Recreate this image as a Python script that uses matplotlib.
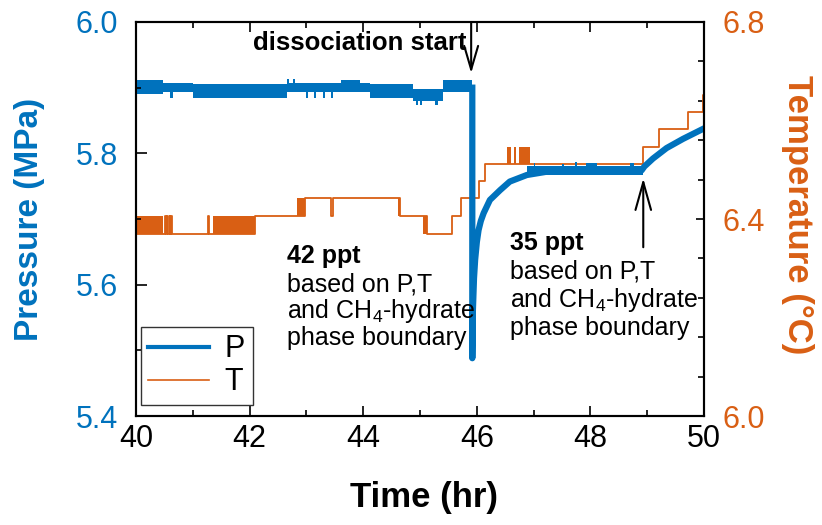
import numpy as np
import matplotlib
matplotlib.use('Agg')
import matplotlib.pyplot as plt
from matplotlib.ticker import MultipleLocator, FixedLocator, FormatStrFormatter
from matplotlib.lines import Line2D

plt.rcParams['font.family'] = ['Liberation Sans', 'DejaVu Sans']
plt.rcParams['mathtext.fontset'] = 'custom'
plt.rcParams['mathtext.rm'] = 'Liberation Sans'

BLUE = '#0072BD'
ORANGE = '#D95F14'

# pressure noise band before dissociation (hr, MPa), step-wise
p_pre_time = [40.00, 40.48, 40.60, 40.65, 41.01, 42.65, 42.70, 42.76, 42.80, 43.00,
              43.03, 43.14, 43.17, 43.29, 43.32, 43.43, 43.46, 43.60, 43.95, 44.12,
              44.88, 44.93, 44.96, 45.00, 45.03, 45.27, 45.31, 45.41, 45.92]
p_pre_high = [5.912, 5.907, 5.907, 5.907, 5.906, 5.913, 5.907, 5.913, 5.907, 5.907,
              5.907, 5.907, 5.907, 5.907, 5.907, 5.907, 5.907, 5.912, 5.907, 5.906,
              5.898, 5.898, 5.898, 5.898, 5.898, 5.898, 5.898, 5.912, 5.912]
p_pre_low = [5.891, 5.894, 5.884, 5.894, 5.885, 5.894, 5.894, 5.894, 5.894, 5.884,
             5.894, 5.884, 5.894, 5.884, 5.894, 5.884, 5.894, 5.894, 5.894, 5.885,
             5.879, 5.874, 5.879, 5.874, 5.879, 5.874, 5.879, 5.894, 5.894]

# pressure drop and recovery (hr, MPa)
p_time = [45.92, 45.92, 45.93, 45.95, 45.97, 46.00, 46.03, 46.07, 46.12, 46.23,
          46.41, 46.58, 46.88, 47.23, 48.90, 48.95, 49.10, 49.34, 49.63, 50.00]
p_value = [5.900, 5.488, 5.560, 5.610, 5.638, 5.665, 5.683, 5.697, 5.709, 5.729,
           5.744, 5.757, 5.767, 5.772, 5.774, 5.780, 5.792, 5.808, 5.822, 5.838]

# pressure noise band on the plateau
p_plat_time = [46.88, 47.00, 47.03, 47.50, 47.53, 47.73, 47.76, 47.93, 48.12, 48.70, 48.76, 48.93]
p_plat_high = [5.780, 5.786, 5.780, 5.784, 5.780, 5.787, 5.780, 5.786, 5.780, 5.786, 5.780, 5.780]
p_plat_low = [5.767, 5.767, 5.767, 5.767, 5.767, 5.767, 5.767, 5.767, 5.767, 5.767, 5.767, 5.767]

# temperature steps (hr, degC)
t_time = [40.00, 40.51, 40.52, 40.55, 40.56, 40.59, 40.60, 40.62, 40.63, 41.27,
          41.28, 42.10, 42.98, 43.44, 43.46, 44.65, 45.12, 45.56, 45.72, 46.04,
          46.14, 48.93, 49.21, 49.72, 49.98, 50.00]
t_value = [6.370, 6.406, 6.370, 6.406, 6.370, 6.406, 6.370, 6.406, 6.370, 6.406,
           6.370, 6.406, 6.442, 6.406, 6.442, 6.406, 6.370, 6.406, 6.442, 6.477,
           6.512, 6.547, 6.582, 6.617, 6.652, 6.652]

# spans where the temperature flickers between two readings
t_flick_start = [40.00, 41.36, 42.83, 44.62, 45.06, 46.53, 46.66, 46.75]
t_flick_end = [40.48, 42.10, 42.98, 44.65, 45.12, 46.60, 46.69, 46.94]
t_flick_low = [6.370, 6.370, 6.406, 6.406, 6.370, 6.512, 6.512, 6.512]
t_flick_high = [6.406, 6.406, 6.442, 6.442, 6.406, 6.547, 6.547, 6.547]

fig = plt.figure(figsize=(8.22, 5.25), dpi=100)
ax = fig.add_axes([0.1655, 0.2076, 0.6910, 0.7505])
ax2 = ax.twinx()
ax.set_zorder(ax2.get_zorder() + 1)
ax.patch.set_visible(False)

# temperature
ax2.step(t_time, t_value, where='post', color=ORANGE, lw=1.3)
for s, e, lo, hi in zip(t_flick_start, t_flick_end, t_flick_low, t_flick_high):
    ax2.fill_between([s, e], [lo, lo], [hi, hi], color=ORANGE, lw=0)

# pressure
ax.fill_between(p_pre_time, p_pre_low, p_pre_high, step='post', color=BLUE, lw=0)
ax.fill_between(p_plat_time, p_plat_low, p_plat_high, step='post', color=BLUE, lw=0)
ax.plot(p_time, p_value, color=BLUE, lw=4.5, solid_joinstyle='round')

ax.set_xlim(40, 50)
ax.set_ylim(5.4, 6.0)
ax2.set_ylim(6.0, 6.8)
ax.set_xticks(range(40, 51, 2))
ax.xaxis.set_minor_locator(MultipleLocator(1))
ax.set_yticks([5.4, 5.6, 5.8, 6.0])
ax.yaxis.set_minor_locator(MultipleLocator(0.1))
ax.yaxis.set_major_formatter(FormatStrFormatter('%.1f'))
ax2.set_yticks([6.0, 6.4, 6.8])
ax2.yaxis.set_minor_locator(FixedLocator(np.linspace(6.0, 6.8, 11)))
ax2.yaxis.set_major_formatter(FormatStrFormatter('%.1f'))

ax.tick_params(axis='x', which='both', direction='in', top=True, labelsize=22, pad=6, width=1.2)
ax.tick_params(axis='x', which='major', length=7)
ax.tick_params(axis='x', which='minor', length=4)
ax.tick_params(axis='y', which='both', direction='in', right=False, labelsize=22, pad=13,
               labelcolor=BLUE, width=1.2)
ax.tick_params(axis='y', which='major', length=8)
ax.tick_params(axis='y', which='minor', length=3.5)
ax2.tick_params(axis='y', which='both', direction='in', labelsize=22, pad=13,
                labelcolor=ORANGE, width=1.2)
ax2.tick_params(axis='y', which='major', length=6)
ax2.tick_params(axis='y', which='minor', length=4.5)
for a in (ax, ax2):
    for sp in a.spines.values():
        sp.set_linewidth(1.5)

ax.set_xlabel('Time (hr)', fontsize=25, fontweight='bold')
ax.xaxis.set_label_coords(0.507, -0.165)
ax.set_ylabel('Pressure (MPa)', fontsize=24, fontweight='bold', color=BLUE)
ax.yaxis.set_label_coords(-0.160, 0.5)
ax2.set_ylabel('Temperature (°C)', fontsize=25, fontweight='bold', color=ORANGE,
               rotation=270, va='bottom')
ax2.yaxis.set_label_coords(1.135, 0.51)

# annotations
ax.text(45.82, 5.957, 'dissociation start', fontsize=18.5, fontweight='bold', ha='right', va='baseline')
ax.annotate('', xy=(45.90, 5.922), xytext=(45.90, 6.0),
            arrowprops=dict(arrowstyle='->,head_length=0.85,head_width=0.25', lw=1.5,
                            color='black', shrinkA=0, shrinkB=0, mutation_scale=20))
ax.annotate('', xy=(48.93, 5.762), xytext=(48.93, 5.657),
            arrowprops=dict(arrowstyle='->,head_length=1.0,head_width=0.28', lw=1.5,
                            color='black', shrinkA=0, shrinkB=0, mutation_scale=20))

note_lines = ['based on P,T', r'and CH$\mathregular{_4}$-hydrate', 'phase boundary']
ax.text(42.66, 5.633, '42 ppt', fontsize=18, fontweight='bold', va='baseline')
for txt, y in zip(note_lines, [5.589, 5.549, 5.508]):
    ax.text(42.66, y, txt, fontsize=18, va='baseline')
ax.text(46.58, 5.653, '35 ppt', fontsize=18, fontweight='bold', va='baseline')
for txt, y in zip(note_lines, [5.610, 5.566, 5.523]):
    ax.text(46.58, y, txt, fontsize=18, va='baseline')

handles = [Line2D([], [], color=BLUE, lw=3), Line2D([], [], color=ORANGE, lw=1.2)]
leg = ax.legend(handles, ['P', 'T'], loc='lower left', bbox_to_anchor=(0.008, 0.028),
                borderaxespad=0, fontsize=22, fancybox=False, framealpha=1,
                edgecolor='#333333', labelspacing=0.1, borderpad=0.25,
                handletextpad=0.5, handlelength=2.0)
leg.get_frame().set_linewidth(1.0)

fig.savefig('out.png', dpi=100)
